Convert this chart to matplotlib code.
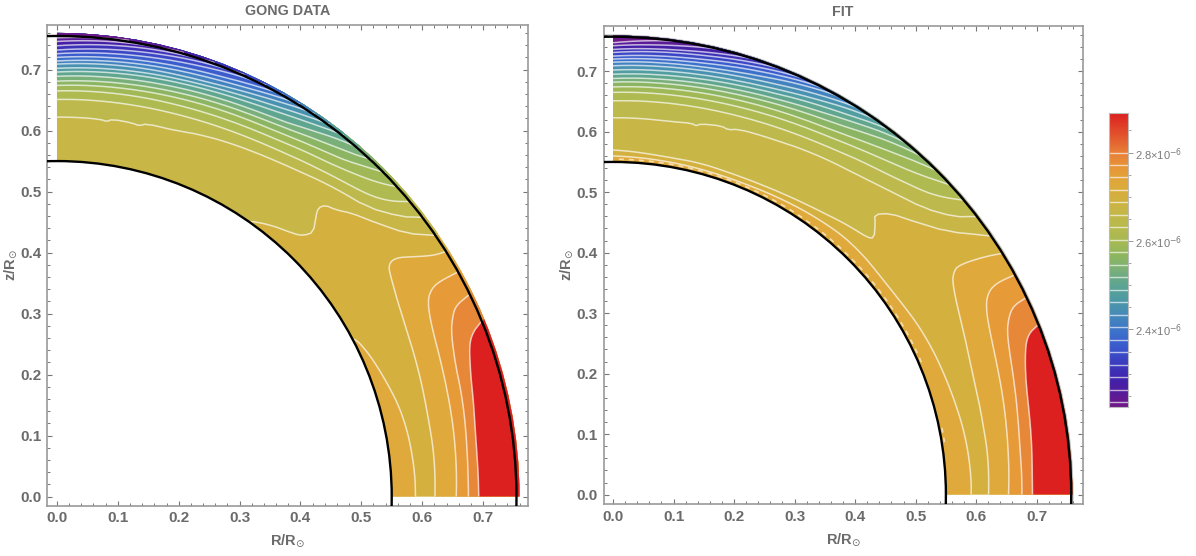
import numpy as np
import matplotlib
matplotlib.use('Agg')
import matplotlib.pyplot as plt
from matplotlib.colors import LinearSegmentedColormap
from matplotlib.patches import Wedge, Circle

plt.rcParams['font.family'] = ['Liberation Sans', 'DejaVu Sans']

# contour levels and colour scale, units of 1e-6
levels = [2.8, 2.7718, 2.7436, 2.7154, 2.6872, 2.659, 2.6308, 2.6026, 2.5744, 2.5462, 2.518,
          2.4898, 2.4616, 2.4334, 2.4052, 2.377, 2.3488, 2.3206, 2.2924, 2.2642, 2.236]
vmin, vmax = 2.224, 2.89
scale_values = [2.224, 2.278, 2.315, 2.353, 2.39, 2.428, 2.466, 2.504, 2.534, 2.564, 2.6, 2.645, 2.673, 2.70, 2.73,
                2.76, 2.8, 2.843, 2.89]
scale_colors = ['#701888', '#4420a8', '#3a38bc', '#3a55cc', '#3c70cc', '#4488bb', '#4e9aa5', '#60a68f', '#7bb078',
                '#8db660', '#a8ba52', '#bdb94c', '#c8b646', '#d3b03e', '#dfa93b', '#e69a38', '#e87e38', '#e2502c', '#dc2020']

# contours as (colatitude in degrees, radius)
gong_L0 = [(67.5, .757), (68.4, .7355), (69.8, .7217), (72.6, .7113), (75.2, .7048), (81.9, .6938), (87.7, .6928), (90, .693)]
gong_L1 = [(63.9, .757), (64.4, .728), (65.4, .715), (67.5, .7006), (71.5, .6895), (74.8, .6863), (84, .677), (90, .676)]
gong_L2 = [(60.8, .757), (60.7, .7213), (61, .704), (62.1, .689), (64.7, .678), (68.5, .6705), (74.7, .6638), (82.9, .659), (90, .656)]
gong_L3 = [(57.9, .757), (57.5, .7367), (56.6, .7146), (54.8, .680), (55.1, .6636), (56.7, .656), (60, .645), (64, .6366),
           (69.2, .630), (77.3, .623), (83.4, .6229), (90, .621)]
gong_L3_inner = [(62, .545), (62.1, .5543), (65.3, .5629), (69.9, .5711), (77, .584), (86.3, .589), (90, .589)]
gong_L4 = [(34.8, .545), (34.8, .5506), (38.2, .5665), (42, .580), (43.4, .5887), (44.2, .604), (42.8, .626), (42.2, .6387),
           (42.7, .650), (44.4, .657), (46, .6697), (49.5, .690), (53.1, .718), (55.3, .752), (55.5, .757)]
gong_L5 = [(0, .622), (6.5, .6226), (7.6, .620), (8.3, .625), (11.5, .6247), (12.5, .6225), (13.5, .6285), (17.7, .630),
           (21.6, .638), (31.8, .654), (36.7, .665), (41.8, .680), (47.1, .696), (50.9, .727), (52.8, .757)]
gong_L6 = [(0, .651), (10, .653), (20, .658), (30, .669), (36, .681), (41, .694), (45.8, .710), (48.5, .730), (50.3, .757)]
gong_L7 = [(0, .665), (10, .668), (20, .673), (30, .684), (35, .695), (40, .708), (44, .726), (46.5, .743), (47.9, .757)]
gong_L8 = [(0, .674), (10, .678), (20, .685), (30, .696), (35, .708), (40, .723), (43, .740), (45.5, .757)]
gong_L9 = [(0, .681), (10, .686), (20, .694), (30, .706), (35, .720), (39, .735), (41.5, .746), (43.1, .757)]
gong_L10 = [(0, .689), (10, .694), (20, .702), (30, .715), (34, .728), (38, .745), (41, .757)]
gong_L11 = [(0, .696), (10, .702), (20, .710), (28, .722), (33, .736), (36, .747), (38.5, .757)]
gong_L12 = [(0, .702), (10, .708), (20, .716), (28, .730), (33, .745), (36.3, .757)]
gong_L13 = [(0, .709), (10, .715), (20, .722), (27, .736), (31, .748), (34, .757)]
gong_L14 = [(0, .714), (10, .721), (20, .730), (26, .741), (31.8, .757)]
gong_L15 = [(0, .720), (10, .727), (20, .737), (25, .746), (29.5, .757)]
gong_L16 = [(0, .726), (10, .734), (18, .743), (23, .751), (27, .757)]
gong_L17 = [(0, .732), (10, .741), (17, .749), (24, .757)]
gong_L18 = [(0, .739), (10, .748), (15, .752), (20, .757)]
gong_L19 = [(0, .746), (8, .752), (16, .757)]
gong_L20 = [(0, .752), (9, .757)]

# same contours
fit_L0 = [(68.2, .757), (68.8, .7364), (70.4, .7227), (74, .7084), (78.5, .7006), (87.1, .693), (90, .6931)]
fit_L1 = [(64.5, .757), (64.7, .7322), (65.8, .7166), (67.9, .7022), (72.6, .6905), (81.9, .6767), (90, .6755)]
fit_L2 = [(61.3, .757), (61.1, .7241), (61.6, .7052), (63, .6912), (65.9, .6796), (71.5, .6686), (81.6, .6577), (90, .6534)]
fit_L3 = [(58.2, .757), (57.3, .727), (56.4, .6854), (56.8, .6725), (58.1, .6603), (62.3, .6447), (70.3, .6269), (78.5, .6218),
          (83.7, .6225), (90, .6204)]
fit_L3_inner = [(0, .5598), (9.2, .5575), (20.9, .5568), (28.2, .5608), (36.4, .5675), (43.1, .573), (53.5, .5693), (62.5, .5781),
                (72.7, .5833), (80.6, .5897), (87.7, .5922), (90, .5917)]
fit_L4 = [(0, .5697), (9, .5647), (14.7, .5663), (20.5, .5654), (27.7, .569), (35.6, .5786), (41.5, .5913), (44.6, .5973),
          (45.5, .6047), (44, .6236), (43, .6335), (44.6, .6527), (47.7, .6708), (51.8, .7023), (55.3, .7512), (55.5, .757)]
fit_L5 = [(0, .623), (8.7, .6237), (12, .6275), (12.7, .6247), (13.2, .6294), (16.4, .6353), (17.5, .6322), (18.9, .6385),
          (23.3, .643), (25.3, .6455), (32, .656), (37.3, .6645), (42.4, .6786), (47.3, .698), (50.8, .7263), (52.6, .757)]
fit_L6 = [(0, .651), (10, .654), (20, .660), (30, .672), (36, .685), (41, .698), (45.5, .716), (48, .734), (50, .757)]
fit_L7 = [(0, .665), (10, .668), (20, .675), (30, .688), (35, .700), (40, .715), (44, .733), (47.5, .757)]
fit_L8 = [(0, .674), (10, .678), (20, .686), (30, .700), (35, .714), (39, .729), (42.5, .745), (45, .757)]
fit_L9 = [(0, .682), (10, .686), (20, .695), (30, .712), (34, .725), (38, .741), (42.4, .757)]
fit_L10 = [(0, .688), (10, .693), (20, .703), (28, .718), (33, .733), (37, .748), (39.9, .757)]
fit_L11 = [(0, .695), (10, .700), (20, .711), (28, .728), (32, .739), (37.2, .757)]
fit_L12 = [(0, .702), (10, .707), (20, .718), (27, .734), (31, .746), (34.9, .757)]
fit_L13 = [(0, .709), (10, .714), (20, .726), (26, .740), (32.4, .757)]
fit_L14 = [(0, .715), (10, .720), (18, .730), (24, .744), (29.5, .757)]
fit_L15 = [(0, .720), (10, .726), (18, .738), (27.3, .757)]
fit_L16 = [(0, .725), (10, .732), (17, .743), (24.6, .757)]
fit_L17 = [(0, .731), (10, .739), (15, .746), (21.5, .757)]
fit_L18 = [(0, .736), (8, .742), (13, .749), (18, .757)]
fit_L19 = [(0, .742), (7, .748), (13.5, .757)]
fit_L20 = [(0, .747), (8, .757)]
# broken white line hugging the inner boundary of the fit
fit_inner_gaps = [[(1, .5545), (67, .5545)], [(78.5, .5545), (81, .5545)]]

gong_outer = [gong_L3, gong_L2, gong_L1, gong_L0]
gong_top = [gong_L4, gong_L5, gong_L6, gong_L7, gong_L8, gong_L9, gong_L10, gong_L11, gong_L12, gong_L13, gong_L14,
            gong_L15, gong_L16, gong_L17, gong_L18, gong_L19, gong_L20]
fit_outer = [fit_L3, fit_L2, fit_L1, fit_L0]
fit_top = [fit_L4, fit_L5, fit_L6, fit_L7, fit_L8, fit_L9, fit_L10, fit_L11, fit_L12, fit_L13, fit_L14,
           fit_L15, fit_L16, fit_L17, fit_L18, fit_L19, fit_L20]

W, H = 1196, 556
GRAY = '#6b6b6b'
FRAME = '#9a9a9a'

cmap = LinearSegmentedColormap.from_list(
    'rainbow_like', [((v - vmin) / (vmax - vmin), c) for v, c in zip(scale_values, scale_colors)])


def to_color(v):
    return cmap((v - vmin) / (vmax - vmin))


# colour of the band just under level i, the first and last band are open ended
band_colors = [to_color(vmax)]
for i in range(1, len(levels)):
    band_colors.append(to_color((levels[i - 1] + levels[i]) / 2))
band_colors.append(to_color((levels[-1] + vmin) / 2))


def polar_xy(pts):
    c = np.radians([p[0] for p in pts])
    r = np.array([p[1] for p in pts])
    return r * np.sin(c), r * np.cos(c)


def dense(pts, passes=2):
    # round the corners a bit (corner cutting), ends stay put
    p = np.array(pts, dtype=float)
    for _ in range(passes):
        a = p[:-1] * .75 + p[1:] * .25
        b = p[:-1] * .25 + p[1:] * .75
        mid = np.empty((2 * len(a), 2))
        mid[0::2] = a
        mid[1::2] = b
        p = np.vstack([p[0], mid, p[-1]])
    # walk along in polar coords so the pieces bend with the sphere
    idx = np.arange(len(p))
    t = np.linspace(0, len(p) - 1, 8 * len(p))
    return list(zip(np.interp(t, idx, p[:, 0]), np.interp(t, idx, p[:, 1])))


def fill_region(ax, clip, pts, closing, color, passes=2):
    x, y = polar_xy(dense(pts, passes) + closing)
    for poly in ax.fill(x, y, color=color, lw=0, zorder=2):
        poly.set_clip_path(clip)


def draw_line(ax, clip, pts, passes=2):
    x, y = polar_xy(dense(pts, passes))
    line, = ax.plot(x, y, color='white', alpha=0.68, lw=1.1, zorder=3, solid_capstyle='butt')
    line.set_clip_path(clip)


def panel(box, xlim, ylim, title, outer, top, inner, r_out, r_arc, r_in):
    x0, x1, y0, y1 = box
    ax = fig.add_axes([x0 / W, 1 - y1 / H, (x1 - x0) / W, (y1 - y0) / H])
    ax.set_xlim(*xlim)
    ax.set_ylim(*ylim)

    clip = Wedge((0, 0), r_out, 0, 90, width=r_out - r_in, transform=ax.transData,
                 facecolor=band_colors[4], edgecolor='none', zorder=1)
    ax.add_patch(clip)

    # inner band, closed through the hole
    start = inner[0][0]
    fill_region(ax, clip, inner, [(90, .3), (start, .3)], band_colors[3])
    draw_line(ax, clip, inner)

    # bands towards the equator at the surface
    for k, pts in zip([3, 2, 1, 0], outer):
        fill_region(ax, clip, pts, [(90, 1.2), (pts[0][0], 1.2)], band_colors[k])
    # bands towards the pole, the first two carry the sharp kinks
    for k, pts in enumerate(top):
        passes = 1 if k < 2 else 2
        if pts[0][0] == 0:
            closing = [(pts[-1][0], 1.2), (0, 1.2)]
        else:
            closing = [(pts[-1][0], 1.2), (0, 1.2), (0, .3), (pts[0][0], .3)]
        fill_region(ax, clip, pts, closing, band_colors[k + 5], passes)
        draw_line(ax, clip, pts, passes)
    for pts in outer:
        draw_line(ax, clip, pts)

    ax.add_patch(Circle((0, 0), r_arc, fill=False, ec='black', lw=1.7, zorder=5))
    ax.add_patch(Circle((0, 0), r_in, fill=False, ec='black', lw=1.7, zorder=5))

    ax.set_xticks(np.arange(0, .75, .1))
    ax.set_yticks(np.arange(0, .75, .1))
    ax.set_xticks(np.arange(0, .77, .02), minor=True)
    ax.set_yticks(np.arange(0, .77, .02), minor=True)
    ax.tick_params(which='major', direction='in', length=3.5, width=.8, color='#777777',
                   top=True, right=True, labelsize=11, labelcolor=GRAY, pad=4)
    ax.tick_params(which='minor', direction='in', length=2, width=.7, color='#777777', top=True, right=True)
    ax.set_xticklabels(['%.1f' % v for v in np.arange(0, .75, .1)], fontweight='bold')
    ax.set_yticklabels(['%.1f' % v for v in np.arange(0, .75, .1)], fontweight='bold')
    for s in ax.spines.values():
        s.set_color(FRAME)
        s.set_linewidth(1.2)

    ax.set_title(title, color=GRAY, fontsize=10.3, fontweight='bold', pad=7)
    ax.set_xlabel(r'R/R$_{\odot}$', color=GRAY, fontsize=10.5, fontweight='bold', labelpad=5)
    ax.set_ylabel(r'z/R$_{\odot}$', color=GRAY, fontsize=10.5, fontweight='bold', labelpad=1)
    return ax, clip


fig = plt.figure(figsize=(W / 100, H / 100), dpi=100)

panel((47, 528.3, 25, 505.7), (-.0164, .7744), (-.0148, .773), 'GONG DATA',
      gong_outer, gong_top, gong_L3_inner, .760, .755, .55)
ax2, clip2 = panel((603.5, 1082.7, 26, 504.3), (-.0157, .776), (-.0159, .7747), 'FIT',
                   fit_outer, fit_top, fit_L3_inner, .759, .757, .55)
ax2.add_patch(Circle((0, 0), .7595, fill=False, ec='#555555', alpha=.4, lw=1.2, zorder=4))
for gap in fit_inner_gaps:
    x, y = polar_xy(dense(gap))
    ax2.plot(x, y, color='#f6dfae', lw=1.2, dashes=(3, 3), zorder=4)

# colour bar
cax = fig.add_axes([1109 / W, 1 - 407.3 / H, 19.3 / W, 294.6 / H])
cax.imshow(np.linspace(1, 0, 400).reshape(-1, 1), cmap=cmap, aspect='auto', extent=[0, 1, vmin, vmax], vmin=0, vmax=1)
cax.hlines(levels, 0, 1, color='white', alpha=.65, lw=1)
cax.set_xticks([])
cax.yaxis.tick_right()
cax.set_yticks([2.4, 2.6, 2.8])
cax.set_yticklabels(['2.4×10$^{-6}$', '2.6×10$^{-6}$', '2.8×10$^{-6}$'])
cax.set_yticks([2.25, 2.3, 2.35, 2.45, 2.5, 2.55, 2.65, 2.7, 2.75, 2.85], minor=True)
cax.tick_params(which='major', direction='out', length=3.5, width=.7, color='#999999', labelsize=8, labelcolor='#7a7a7a', pad=1)
cax.tick_params(which='minor', direction='out', length=2, width=.6, color='#999999')
for s in cax.spines.values():
    s.set_color('#bbbbbb')

fig.savefig('out.png', dpi=100)
